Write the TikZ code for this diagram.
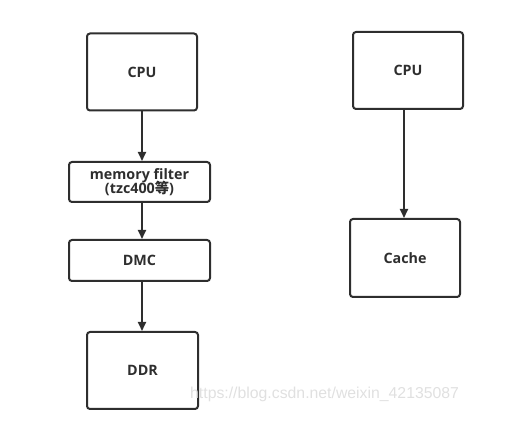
\documentclass[tikz,border=0pt]{standalone}
\usepackage{fontspec}
\setmainfont{Open Sans}
\newfontfamily\cjkfont{Noto Sans CJK SC}
\newfontfamily\wmfont{Liberation Sans}
\usetikzlibrary{arrows.meta}
\definecolor{ink}{HTML}{2E2E2E}
\definecolor{wm}{HTML}{E0E0E0}
\tikzset{
  blk/.style={draw=ink, line width=2pt, rounded corners=3pt, fill=white, inner sep=0pt,
    font=\fontsize{14.3}{16.5}\selectfont\bfseries, text=ink, align=center},
  conn/.style={draw=ink, line width=2pt, -{Triangle[length=9pt,width=8pt]}},
}
\begin{document}
\begin{tikzpicture}[x=1pt,y=-1pt]
\useasboundingbox (0,0) rectangle (517,427);
% left column
\node[blk, minimum width=110pt, minimum height=77pt] (cpu1) at (142,72) {CPU};
\node[blk, minimum width=141pt, minimum height=40pt] (mf) at (139.5,182) {memory filter\\[-2pt](tzc400{\cjkfont\bfseries 等})};
\node[blk, minimum width=141pt, minimum height=41pt] (dmc) at (139.5,260.5) {DMC};
\node[blk, minimum width=111pt, minimum height=77pt] (ddr) at (142.5,370.5) {DDR};
% right column
\node[blk, minimum width=110pt, minimum height=77pt] (cpu2) at (408,70.5) {CPU};
\node[blk, minimum width=110pt, minimum height=78pt] (cache) at (405,258) {Cache};
% connectors
\draw[conn] (cpu1.south -| 142,0) -- (mf.north -| 142,0);
\draw[conn] (mf.south -| 142,0) -- (dmc.north -| 142,0);
\draw[conn] (dmc.south -| 142,0) -- (ddr.north -| 142,0);
\draw[conn] (cpu2.south -| 404,0) -- (cache.north -| 404,0);
% watermark
\node[text=wm, font=\wmfont\fontsize{15.8}{18}\selectfont, anchor=base west, inner sep=0pt] (wmark) at (190,399) {https://blog.csdn.net/weixin\_42135087};
\end{tikzpicture}
\end{document}
